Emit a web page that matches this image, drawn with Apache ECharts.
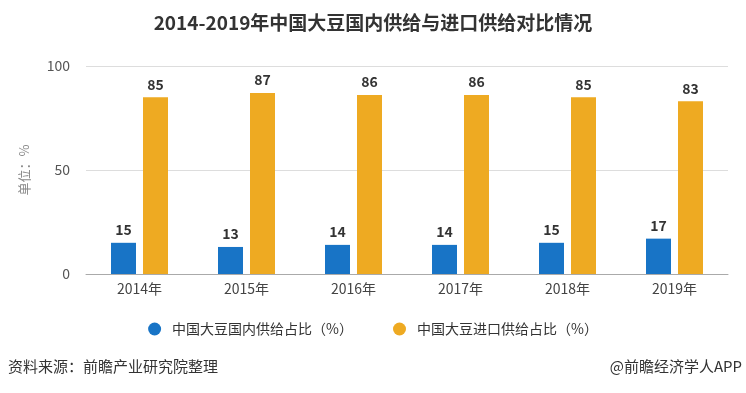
<!DOCTYPE html>
<html><head><meta charset="utf-8">
<script src="https://cdn.jsdelivr.net/npm/echarts@6/dist/echarts.min.js"></script>
<style>html,body{margin:0;padding:0;background:#fff}#c{width:746px;height:393px}</style>
</head><body><div id="c"></div>
<script>
const categories = ['2014年','2015年','2016年','2017年','2018年','2019年'];
const domesticShare = [15,13,14,14,15,17];
const importShare = [85,87,86,86,85,83];
const seriesNames = ['中国大豆国内供给占比（%）','中国大豆进口供给占比（%）'];
const yTicks = [0,50,100];

const chart = echarts.init(document.getElementById('c'));
const labelStyle = {show:true, position:'top', color:'#333', fontWeight:'bold', fontSize:14, distance:6, fontFamily:'Noto Sans CJK SC'};
chart.setOption({
  animation:false,
  textStyle:{fontFamily:'Noto Sans CJK SC'},
  title:{text:'2014-2019年中国大豆国内供给与进口供给对比情况', left:'center', top:8,
    textStyle:{fontSize:19, fontWeight:'bold', color:'#333', fontFamily:'Noto Sans CJK SC'}},
  grid:{left:86, right:18, top:66, bottom:119},
  legend:{bottom:52, left:'center', itemWidth:13, itemHeight:13, itemGap:40, icon:'circle',
    textStyle:{fontSize:14, color:'#333', padding:[0,0,0,6]}, data:seriesNames},
  xAxis:{type:'category', data:categories,
    axisLine:{lineStyle:{color:'#aaa'}},
    axisTick:{alignWithLabel:true, length:5, lineStyle:{color:'#aaa'}},
    axisLabel:{fontSize:14, color:'#444', margin:8}},
  yAxis:{type:'value', min:yTicks[0], max:yTicks[yTicks.length-1], interval:50,
    name:'单位：%', nameLocation:'middle', nameGap:55, nameRotate:90,
    nameTextStyle:{color:'#888', fontSize:13},
    axisLine:{show:false}, axisTick:{show:false},
    axisLabel:{fontSize:14, color:'#555', margin:16},
    splitLine:{lineStyle:{color:'#ddd'}}},
  series:[
    {name:seriesNames[0], type:'bar', data:domesticShare, barWidth:25, barGap:'28%',
      itemStyle:{color:'#1874c6'}, label:labelStyle},
    {name:seriesNames[1], type:'bar', data:importShare, barWidth:25,
      itemStyle:{color:'#eeaa22'}, label:labelStyle}
  ],
  graphic:[
    {type:'text', left:8, top:359, style:{text:'资料来源：前瞻产业研究院整理', fontSize:15, fill:'#333', fontFamily:'Noto Sans CJK SC'}},
    {type:'text', right:4, top:359, style:{text:'@前瞻经济学人APP', fontSize:15, fill:'#333', fontFamily:'Noto Sans CJK SC'}}
  ]
});
</script></body></html>
